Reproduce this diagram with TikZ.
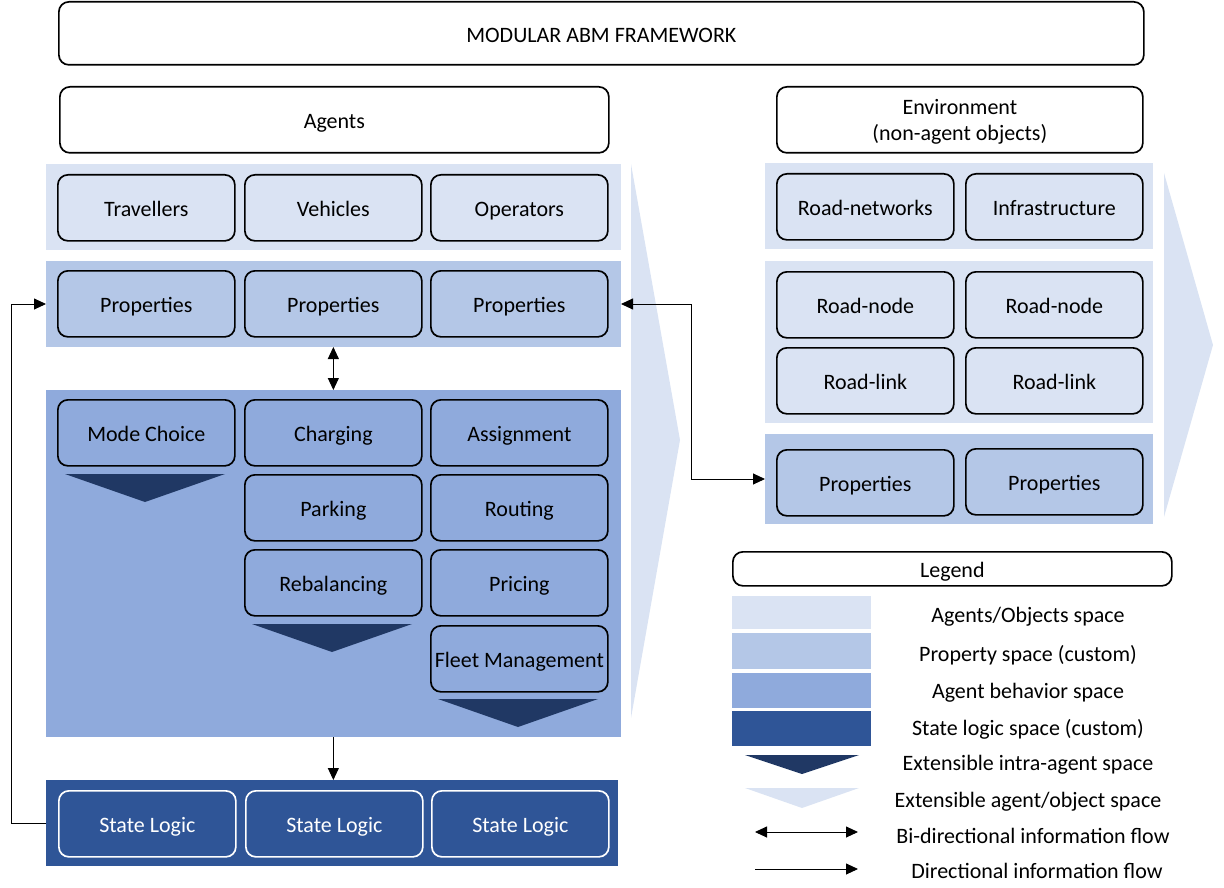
\documentclass[tikz,border=0pt]{standalone}
\usepackage{fontspec}
\setmainfont{Carlito}
\usetikzlibrary{arrows.meta,calc}
\definecolor{cA}{HTML}{DAE3F3}
\definecolor{cB}{HTML}{B4C7E7}
\definecolor{cC}{HTML}{8FAADC}
\definecolor{cS}{HTML}{2F5597}
\definecolor{cD}{HTML}{203864}
\begin{document}
\begin{tikzpicture}[x=1pt,y=-1pt,
  font=\fontsize{22}{26}\selectfont,
  tx/.style={text height=18pt, text depth=0pt},
  band/.style={inner sep=0pt, outer sep=0pt, anchor=north west, draw=none},
  hdr/.style={draw, rounded corners=10pt, line width=1.7pt, fill=white, inner sep=0pt, anchor=north west},
  box/.style={draw, tx, rounded corners=10pt, line width=1.7pt, minimum width=177pt, minimum height=66pt, inner sep=0pt, anchor=north west},
  slbox/.style={box, draw=white, text=white},
  tri/.style={fill=cD},
  chev/.style={fill=cA},
  flow/.style={line width=0.9pt, -{Triangle[length=12pt,width=11pt]}},
  biflow/.style={line width=0.9pt, {Triangle[length=12pt,width=11pt]}-{Triangle[length=12pt,width=11pt]}},
  lgtext/.style={anchor=center, tx, inner sep=0pt}
]
\useasboundingbox (0,0) rectangle (1224,888);

% header boxes
\node[hdr, tx, minimum width=1085pt, minimum height=63pt] (fw) at (58,1) {MODULAR ABM FRAMEWORK};
\node[hdr, tx, minimum width=549pt, minimum height=66pt] (agents) at (59,86) {Agents};
\node[hdr, minimum width=366pt, minimum height=66pt, align=center] (env) at (776,86) {\rule{0pt}{19pt}Environment\\(non-agent objects)};

% extensible chevrons
\fill[chev] (631,164) -- (680,440) -- (631,718) -- cycle;
\fill[chev] (1164,173) -- (1213,345) -- (1164,517) -- cycle;

% agent bands
\node[band, fill=cA, minimum width=575pt, minimum height=86pt] (ao) at (46,164) {};
\node[band, fill=cB, minimum width=575pt, minimum height=86pt] (ap) at (46,261) {};
\node[band, fill=cC, minimum width=575pt, minimum height=347pt] (ab) at (46,390) {};
\node[band, fill=cS, minimum width=572pt, minimum height=86pt] (as) at (46,780) {};

% environment bands
\node[band, fill=cA, minimum width=388pt, minimum height=86pt] (eo) at (765,163) {};
\node[band, fill=cA, minimum width=388pt, minimum height=162pt] (en) at (765,261) {};
\node[band, fill=cB, minimum width=388pt, minimum height=90pt] (ep) at (765,434) {};

% agents
\node[box, fill=cA] (trav) at (57,174) {Travellers};
\node[box, fill=cA] (veh) at (244,174) {Vehicles};
\node[box, fill=cA] (oper) at (430,174) {Operators};

\node[box, fill=cB] (p1) at (57,270) {Properties};
\node[box, fill=cB] (p2) at (244,270) {Properties};
\node[box, fill=cB] (p3) at (430,270) {Properties};

\node[box, fill=cC] (mode) at (57,399) {Mode Choice};
\node[box, fill=cC] (charg) at (244,399) {Charging};
\node[box, fill=cC] (assign) at (430,399) {Assignment};
\node[box, fill=cC] (park) at (244,474) {Parking};
\node[box, fill=cC] (rout) at (430,474) {Routing};
\node[box, fill=cC] (rebal) at (244,549) {Rebalancing};
\node[box, fill=cC] (price) at (430,549) {Pricing};
\node[box, fill=cC] (fleet) at (430,625) {Fleet Management};

\fill[tri] (65,474) -- (225,474) -- (145,502) -- cycle;
\fill[tri] (252,624) -- (412,624) -- (332,652) -- cycle;
\fill[tri] (438,699) -- (598,699) -- (518,727) -- cycle;

\node[slbox, fill=cS] (s1) at (58,790) {State Logic};
\node[slbox, fill=cS] (s2) at (245,790) {State Logic};
\node[slbox, fill=cS] (s3) at (431,790) {State Logic};

% environment
\node[box, fill=cA] (rnet) at (776,173) {Road-networks};
\node[box, fill=cA] (infra) at (965,173) {Infrastructure};
\node[box, fill=cA] (rn1) at (776,271) {Road-node};
\node[box, fill=cA] (rn2) at (965,271) {Road-node};
\node[box, fill=cA] (rl1) at (776,347) {Road-link};
\node[box, fill=cA] (rl2) at (965,347) {Road-link};
\node[box, fill=cB] (ep1) at (776,449) {Properties};
\node[box, fill=cB] (ep2) at (965,448) {Properties};

% connectors
\draw[biflow] (ap.south -| p2) -- (ab.north -| p2);
\draw[flow] (ab.south -| p2) -- (as.north -| p2);
\draw[flow] (as.west) -- ++(-35,0) |- (ap.west);
\coordinate (elbow) at (691,0);
\draw[biflow] (ap.east) -- (ap.east -| elbow) |- (ep.west);

% legend
\node[hdr, tx, minimum width=439pt, minimum height=34pt] (leg) at (732,551) {Legend};
\node[band, fill=cA, minimum width=139pt, minimum height=33pt] (lg1) at (732,596) {};
\node[band, fill=cB, minimum width=139pt, minimum height=36pt] (lg2) at (732,633) {};
\node[band, fill=cC, minimum width=139pt, minimum height=35pt] (lg3) at (732,673) {};
\node[band, fill=cS, minimum width=139pt, minimum height=35pt] (lg4) at (732,711) {};
\fill[tri] (745,755) -- (859,755) -- (802,774) -- cycle;
\fill[chev] (745,788) -- (859,788) -- (802,808) -- cycle;
\coordinate (ba) at (755,832);
\coordinate (bb) at (858,832);
\draw[biflow] (ba) -- (bb);
\coordinate (da) at (755,869);
\coordinate (db) at (858,869);
\draw[flow] (da) -- (db);

\node[lgtext] (t1) at (1028,613) {Agents/Objects space};
\node[lgtext] (t2) at (1028,652.5) {Property space (custom)};
\node[lgtext] (t3) at (1028,689) {Agent behavior space};
\node[lgtext] (t4) at (1028,726) {State logic space (custom)};
\node[lgtext] (t5) at (1028,761) {Extensible intra-agent space};
\node[lgtext] (t6) at (1028,798) {Extensible agent/object space};
\node[lgtext] (t7) at (1033,834) {Bi-directional information flow};
\node[lgtext] (t8) at (1037,869) {Directional information flow};
\end{tikzpicture}
\end{document}
